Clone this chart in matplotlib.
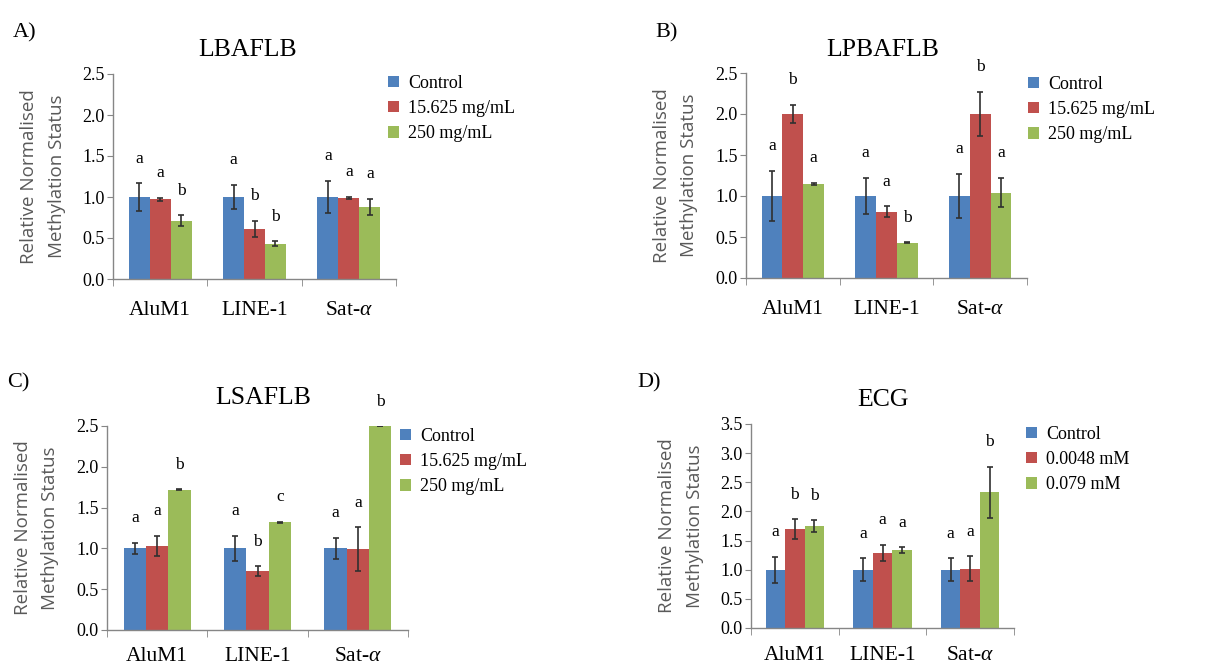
import matplotlib
matplotlib.use('Agg')
import matplotlib.pyplot as plt
import numpy as np

COLORS = ['#4F81BD', '#C0504D', '#9BBB59']
SERIF = 'Liberation Serif'
SANS = 'Open Sans'

plt.rcParams['mathtext.fontset'] = 'custom'
plt.rcParams['mathtext.it'] = 'Liberation Serif:italic'
plt.rcParams['mathtext.rm'] = 'Liberation Serif'

categories = ['AluM1', 'LINE-1', 'Sat-$\\alpha$']

# Panel A - LBAFLB
a_series = ['Control', '15.625 mg/mL', '250 mg/mL']
a_vals = [[1.0, 1.0, 1.0], [0.97, 0.61, 0.99], [0.71, 0.43, 0.88]]
a_errs = [[0.165, 0.15, 0.20], [0.02, 0.10, 0.01], [0.065, 0.03, 0.095]]
a_letters = [['a', 'a', 'a'], ['a', 'b', 'a'], ['b', 'b', 'a']]

# Panel B - LPBAFLB
b_series = ['Control', '15.625 mg/mL', '250 mg/mL']
b_vals = [[1.0, 1.0, 1.0], [2.0, 0.81, 2.0], [1.15, 0.43, 1.04]]
b_errs = [[0.31, 0.22, 0.27], [0.115, 0.065, 0.27], [0.01, 0.005, 0.18]]
b_letters = [['a', 'a', 'a'], ['b', 'a', 'b'], ['a', 'b', 'a']]

# Panel C - LSAFLB
c_series = ['Control', '15.625 mg/mL', '250 mg/mL']
c_vals = [[1.0, 1.0, 1.0], [1.03, 0.72, 0.99], [1.72, 1.32, 2.5]]
c_errs = [[0.07, 0.155, 0.13], [0.125, 0.06, 0.27], [0.005, 0.005, 0.0]]
c_letters = [['a', 'a', 'a'], ['a', 'b', 'a'], ['b', 'c', 'b']]

# Panel D - ECG
d_series = ['Control', '0.0048 mM', '0.079 mM']
d_vals = [[1.0, 1.0, 1.0], [1.70, 1.285, 1.02], [1.75, 1.34, 2.33]]
d_errs = [[0.22, 0.20, 0.20], [0.165, 0.14, 0.21], [0.10, 0.05, 0.44]]
d_letters = [['a', 'a', 'a'], ['b', 'a', 'a'], ['b', 'a', 'b']]

W, H = 1223, 668


def px_rect(left, right, top, bottom):
    return [left / W, 1 - bottom / H, (right - left) / W, (bottom - top) / H]


def draw_panel(fig, rect, title, title_xy, label, label_xy, series, vals, errs,
               letters, ymax, legend_xy, xpad=16):
    ax = fig.add_axes(rect)
    x = np.arange(len(categories))
    width = 0.222
    handles = []
    for i, name in enumerate(series):
        pos = x + (i - 1) * width
        bars = ax.bar(pos, vals[i], width, color=COLORS[i], label=name, zorder=2)
        ax.errorbar(pos, vals[i], yerr=errs[i], fmt='none', ecolor='#303030',
                    elinewidth=1.2, capsize=2.5, capthick=1.2, zorder=3)
        handles.append(bars)
        for j in range(len(categories)):
            ax.text(pos[j], vals[i][j] + errs[i][j] + 0.12 * ymax, letters[i][j],
                    ha='center', va='center', fontsize=12.5, family=SERIF,
                    clip_on=False)
    ax.set_xlim(-0.5, 2.5)
    ax.set_ylim(0, ymax)
    ax.set_yticks(np.arange(0, ymax + 0.01, 0.5))
    ax.set_yticklabels([f'{v:.1f}' for v in np.arange(0, ymax + 0.01, 0.5)],
                       fontsize=13, family=SERIF)
    ax.set_xticks(x)
    ax.set_xticklabels(categories, fontsize=15.5, family=SERIF)
    ax.set_xticks([-0.5, 0.5, 1.5, 2.5], minor=True)
    ax.tick_params(axis='x', which='major', length=0, pad=xpad)
    ax.tick_params(axis='x', which='minor', length=5, color='#868686', direction='out')
    ax.tick_params(axis='y', length=4, color='#868686', direction='out', pad=2)
    for s in ['top', 'right']:
        ax.spines[s].set_visible(False)
    for s in ['left', 'bottom']:
        ax.spines[s].set_color('#868686')
        ax.spines[s].set_linewidth(1.0)
    ax.set_ylabel('Relative Normalised\nMethylation Status', family=SANS,
                  fontsize=13.5, color='#595959', linespacing=1.7, labelpad=12)
    fig.text(title_xy[0] / W, 1 - title_xy[1] / H, title, ha='center', va='center',
             fontsize=18.5, family=SERIF)
    fig.text(label_xy[0] / W, 1 - label_xy[1] / H, label, ha='left', va='center',
             fontsize=16, family=SERIF)
    fig.legend(handles, series, loc='upper left',
               bbox_to_anchor=(legend_xy[0] / W, 1 - legend_xy[1] / H),
               frameon=False, prop={'family': SERIF, 'size': 13},
               handlelength=0.6, handleheight=0.6, handletextpad=0.5,
               labelspacing=0.45, borderpad=0, borderaxespad=0)
    return ax


fig = plt.figure(figsize=(W / 100, H / 100), dpi=100)

draw_panel(fig, px_rect(113, 396, 74, 279), 'LBAFLB', (248, 50), 'A)', (13, 33),
           a_series, a_vals, a_errs, a_letters, 2.5, (388, 75))
draw_panel(fig, px_rect(746, 1027, 73, 278), 'LPBAFLB', (883, 50), 'B)', (655, 33),
           b_series, b_vals, b_errs, b_letters, 2.5, (1028, 76))
draw_panel(fig, px_rect(107, 408, 426, 630), 'LSAFLB', (263, 398), 'C)', (7, 383),
           c_series, c_vals, c_errs, c_letters, 2.5, (400, 428), xpad=12)
draw_panel(fig, px_rect(751, 1014, 424, 628), 'ECG', (883, 400), 'D)', (637, 383),
           d_series, d_vals, d_errs, d_letters, 3.5, (1026, 426), xpad=13)

fig.savefig('out.png', dpi=100)
